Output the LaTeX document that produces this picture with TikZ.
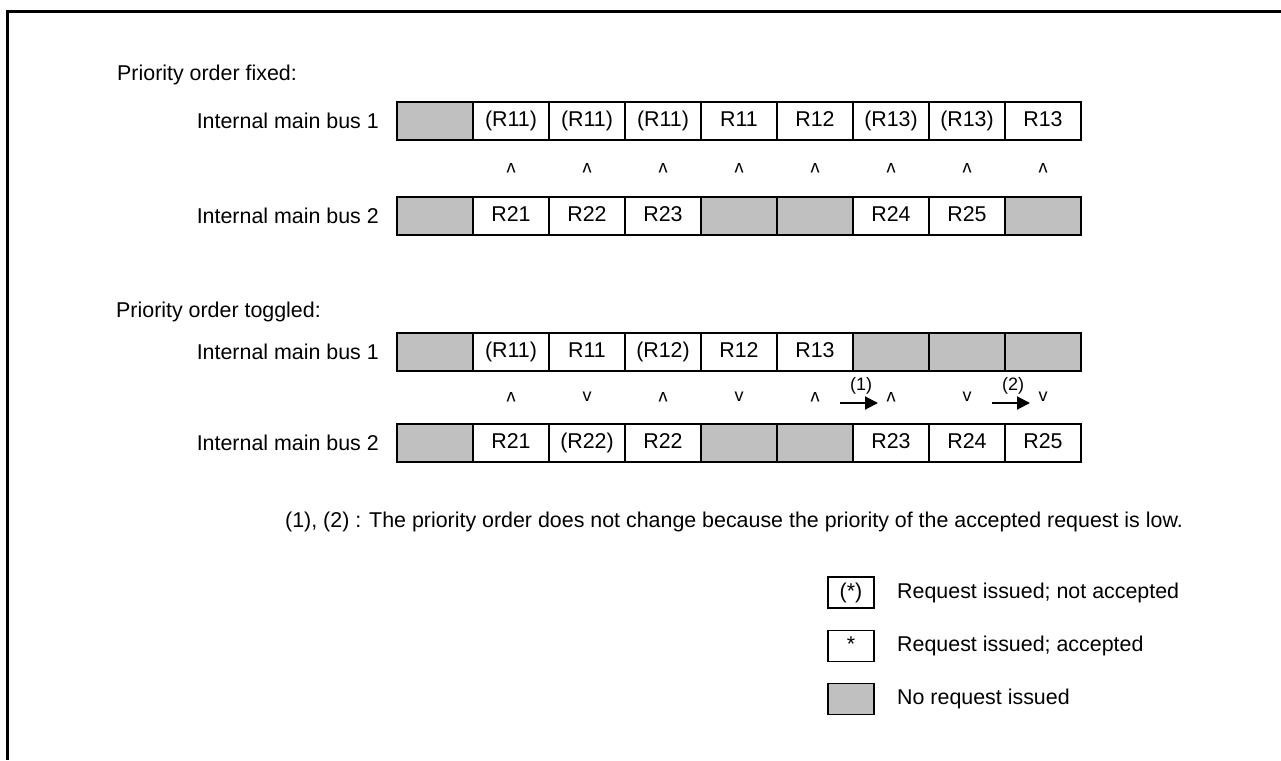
\documentclass[tikz,border=0pt]{standalone}
\usepackage{fontspec}
\setmainfont{Liberation Sans}
\usetikzlibrary{arrows.meta}
\begin{document}
\begin{tikzpicture}[x=1pt,y=-1pt,
  txt/.style={font=\fontsize{21.4}{25}\selectfont, inner sep=0pt},
  wcell/.style={draw, line width=1.2pt, fill=white, minimum width=76pt, minimum height=38pt, inner sep=0pt, text height=15.5pt, text depth=4.5pt, font=\fontsize{21.4}{25}\selectfont},
  gcell/.style={wcell, fill=cellgray},
  mk/.style={font=\fontsize{18}{20}\selectfont, inner sep=0pt},
  lab/.style={font=\fontsize{18}{20}\selectfont, inner sep=0pt},
  arr/.style={line width=2pt, -{Triangle[length=13pt,width=13pt]}},
  legbox/.style={draw, line width=1.2pt, minimum width=46pt, minimum height=31pt, inner sep=0pt, text height=15.5pt, text depth=4.5pt, font=\fontsize{21.4}{25}\selectfont}
]
\definecolor{cellgray}{HTML}{C0C0C0}
\useasboundingbox (0,0) rectangle (1281,760);
\fill[white] (0,0) rectangle (1281,760);
% frame
\draw[line width=3pt] (1281,11.5) -- (7.5,11.5) -- (7.5,760);

% ---------- Priority order fixed ----------
\node[txt, anchor=west] (hfix) at (117,75) {Priority order fixed:};
\node[txt, anchor=east] (lf1) at (379,121) {Internal main bus 1};
\node[txt, anchor=east] (lf2) at (379,216) {Internal main bus 2};
\foreach \s/\t [count=\i from 0] in {gcell/{}, wcell/{(R11)}, wcell/{(R11)}, wcell/{(R11)}, wcell/{R11}, wcell/{R12}, wcell/{(R13)}, wcell/{(R13)}, wcell/{R13}}
  \node[\s] (f1c\i) at (435+76*\i,121) {\t};
\foreach \s/\t [count=\i from 0] in {gcell/{}, wcell/{R21}, wcell/{R22}, wcell/{R23}, gcell/{}, gcell/{}, wcell/{R24}, wcell/{R25}, gcell/{}}
  \node[\s] (f2c\i) at (435+76*\i,216) {\t};
\foreach \i in {1,...,8}
  \node[mk] (fm\i) at (435+76*\i,168) {\rotatebox{180}{v}};

% ---------- Priority order toggled ----------
\node[txt, anchor=west] (htog) at (116,312) {Priority order toggled:};
\node[txt, anchor=east] (lt1) at (379,352) {Internal main bus 1};
\node[txt, anchor=east] (lt2) at (379,443) {Internal main bus 2};
\foreach \s/\t [count=\i from 0] in {gcell/{}, wcell/{(R11)}, wcell/{R11}, wcell/{(R12)}, wcell/{R12}, wcell/{R13}, gcell/{}, gcell/{}, gcell/{}}
  \node[\s] (t1c\i) at (435+76*\i,352) {\t};
\foreach \s/\t [count=\i from 0] in {gcell/{}, wcell/{R21}, wcell/{(R22)}, wcell/{R22}, gcell/{}, gcell/{}, wcell/{R23}, wcell/{R24}, wcell/{R25}}
  \node[\s] (t2c\i) at (435+76*\i,443) {\t};
\foreach \m [count=\i from 1] in {u,d,u,d,u,u,d,d}
  \node[mk] (tm\i) at (435+76*\i,397) {\if u\m\rotatebox{180}{v}\else v\fi};

% arrows (1), (2)
\coordinate (a1s) at (840,403);
\coordinate (a1e) at (878,403);
\coordinate (a2s) at (992,403);
\coordinate (a2e) at (1030,403);
\draw[arr] (a1s) -- (a1e);
\draw[arr] (a2s) -- (a2e);
\node[lab] (n1) at (861,386) {(1)};
\node[lab] (n2) at (1013,386) {(2)};

% footnote
\node[txt, anchor=west] (note) at (285,522) {(1), (2) : The priority order does not change because the priority of the accepted request is low.};

% legend
\node[legbox] (lg1) at (851,592.5) {(*)};
\node[legbox] (lg2) at (851,646) {*};
\node[legbox, fill=cellgray] (lg3) at (851,699) {};
\node[txt, anchor=west] (lx1) at (897,592.5) {Request issued; not accepted};
\node[txt, anchor=west] (lx2) at (897,646) {Request issued; accepted};
\node[txt, anchor=west] (lx3) at (897,699) {No request issued};
\end{tikzpicture}
\end{document}
